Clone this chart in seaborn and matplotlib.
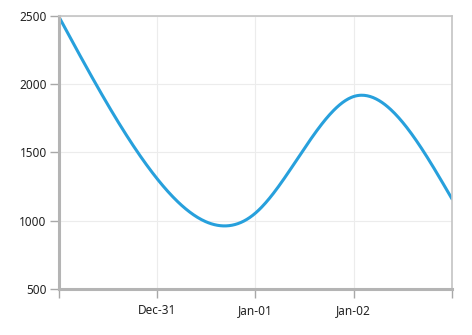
import numpy as np
import pandas as pd
import matplotlib
matplotlib.use("Agg")
import matplotlib.pyplot as plt
import matplotlib.dates as mdates
import seaborn as sns

# Data (daily points of a spline series)
dates = ["2016-12-30", "2016-12-31", "2017-01-01", "2017-01-02", "2017-01-03"]
values = [2500, 1310, 1055, 1910, 1160]
tick_labels = ["", "Dec-31", "Jan-01", "Jan-02", ""]
y_ticks = [500, 1000, 1500, 2000, 2500]

sns.set_theme(style="white")
plt.rcParams["font.family"] = ["Noto Sans", "DejaVu Sans"]

x = mdates.date2num(pd.to_datetime(dates))
y = np.array(values, dtype=float)

# natural cubic spline rendering of the series
def natural_spline(xk, yk, xs):
    n = len(xk)
    h = np.diff(xk)
    A = np.zeros((n, n))
    b = np.zeros(n)
    A[0, 0] = 1
    A[-1, -1] = 1
    for i in range(1, n - 1):
        A[i, i - 1] = h[i - 1]
        A[i, i] = 2 * (h[i - 1] + h[i])
        A[i, i + 1] = h[i]
        b[i] = 6 * ((yk[i + 1] - yk[i]) / h[i] - (yk[i] - yk[i - 1]) / h[i - 1])
    M = np.linalg.solve(A, b)
    idx = np.clip(np.searchsorted(xk, xs) - 1, 0, n - 2)
    x0, x1 = xk[idx], xk[idx + 1]
    hh = x1 - x0
    t1 = (x1 - xs)
    t0 = (xs - x0)
    return (M[idx] * t1 ** 3 / (6 * hh) + M[idx + 1] * t0 ** 3 / (6 * hh)
            + (yk[idx] / hh - M[idx] * hh / 6) * t1
            + (yk[idx + 1] / hh - M[idx + 1] * hh / 6) * t0)

xs = np.linspace(x[0], x[-1], 400)
ys = natural_spline(x, y, xs)
df = pd.DataFrame({"date": mdates.num2date(xs), "value": ys})
df["date"] = pd.to_datetime(df["date"]).dt.tz_localize(None)

fig = plt.figure(figsize=(4.72, 3.35), dpi=100)
ax = fig.add_axes([58.5 / 472, (335 - 289) / 335, (452 - 58.5) / 472, (289 - 16) / 335])

sns.lineplot(data=df, x="date", y="value", ax=ax, color="#27a0dc", linewidth=2.2)

ax.set_xlim(x[0], x[-1])
ax.set_ylim(500, 2500)
ax.set_xticks(x)
ax.set_xticklabels(tick_labels)
ax.set_yticks(y_ticks)
ax.set_yticklabels([str(v) for v in y_ticks])
ax.set_xlabel("")
ax.set_ylabel("")

ax.grid(True, color="#ececec", linewidth=0.8)
ax.set_axisbelow(True)

for side in ["left", "bottom"]:
    ax.spines[side].set_color("#b4b4b4")
    ax.spines[side].set_linewidth(2.2)
for side in ["top", "right"]:
    ax.spines[side].set_color("#c4c4c4")
    ax.spines[side].set_linewidth(1.2)

ax.tick_params(axis="both", which="major", direction="out", length=6.5, width=1.0,
               color="#a8a8a8", labelsize=8.5, labelcolor="#222222")
ax.tick_params(axis="y", pad=2)
ax.tick_params(axis="x", pad=4, bottom=True)
ax.tick_params(axis="y", left=True)

fig.savefig("out.png", dpi=100)
